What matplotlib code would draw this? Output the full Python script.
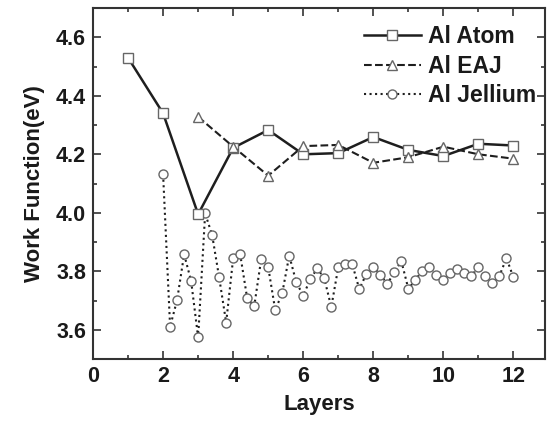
import matplotlib
matplotlib.use("Agg")
import matplotlib.pyplot as plt
from matplotlib.ticker import MultipleLocator

plt.rcParams['font.family'] = ['Liberation Sans', 'DejaVu Sans']
plt.rcParams['font.weight'] = 'bold'

# Al Atom: integer layers
atom_x = [1, 2, 3, 4, 5, 6, 7, 8, 9, 10, 11, 12]
atom_y = [4.53, 4.34, 3.995, 4.222, 4.283, 4.200, 4.204, 4.259, 4.215, 4.194, 4.236, 4.230]

# Al EAJ
eaj_x = [3, 4, 5, 6, 7, 8, 9, 10, 11, 12]
eaj_y = [4.328, 4.226, 4.127, 4.228, 4.232, 4.171, 4.190, 4.226, 4.200, 4.185]

# Al Jellium: layers in steps of 0.2
jel_x = [2.0, 2.2, 2.4, 2.6, 2.8, 3.0, 3.2, 3.4, 3.6, 3.8,
         4.0, 4.2, 4.4, 4.6, 4.8, 5.0, 5.2, 5.4, 5.6, 5.8,
         6.0, 6.2, 6.4, 6.6, 6.8, 7.0, 7.2, 7.4, 7.6, 7.8,
         8.0, 8.2, 8.4, 8.6, 8.8, 9.0, 9.2, 9.4, 9.6, 9.8,
         10.0, 10.2, 10.4, 10.6, 10.8, 11.0, 11.2, 11.4, 11.6, 11.8,
         12.0]
jel_y = [4.132, 3.611, 3.702, 3.858, 3.767, 3.574, 3.998, 3.924, 3.779, 3.625,
         3.845, 3.858, 3.708, 3.680, 3.842, 3.814, 3.668, 3.725, 3.854, 3.763,
         3.717, 3.773, 3.810, 3.776, 3.678, 3.814, 3.824, 3.824, 3.739, 3.791,
         3.816, 3.788, 3.757, 3.797, 3.835, 3.740, 3.771, 3.802, 3.814, 3.788,
         3.771, 3.796, 3.808, 3.796, 3.784, 3.816, 3.784, 3.759, 3.785, 3.845,
         3.779]

line_c = '#1e1e1e'
edge_c = '#666666'
text_c = '#1a1a1a'

fig = plt.figure(figsize=(5.55, 4.21), dpi=100)
ax = fig.add_axes([0.1676, 0.147, 0.8144, 0.834])

ax.plot(atom_x, atom_y, '-', color=line_c, lw=1.8, marker='s', ms=6.5,
        mfc='white', mec=edge_c, mew=1.0, label='Al Atom', zorder=3)
ax.plot(eaj_x, eaj_y, '--', color=line_c, lw=1.5, marker='^', ms=7,
        mfc='white', mec=edge_c, mew=1.0, label='Al EAJ', zorder=3)
ax.plot(jel_x, jel_y, ':', color=line_c, lw=1.5, marker='o', ms=6.5,
        mfc='white', mec=edge_c, mew=1.0, label='Al Jellium', zorder=2)

ax.set_xlim(0, 12.9)
ax.set_ylim(3.5, 4.7)
ax.xaxis.set_major_locator(MultipleLocator(2))
ax.xaxis.set_minor_locator(MultipleLocator(1))
ax.yaxis.set_major_locator(MultipleLocator(0.2))
ax.yaxis.set_minor_locator(MultipleLocator(0.1))
ax.yaxis.set_major_formatter(matplotlib.ticker.FormatStrFormatter('%.1f'))

ax.tick_params(which='both', direction='in', top=True, right=True,
               color='#333333', width=1.2, labelsize=15.5, labelcolor=text_c)
ax.tick_params(which='major', length=6, pad=5)
ax.tick_params(which='minor', length=3)
for s in ax.spines.values():
    s.set_linewidth(1.5)
    s.set_color('#333333')

ax.set_xlabel('Layers', fontsize=16, fontweight='bold', color=text_c, labelpad=5)
ax.set_ylabel('Work Function(eV)', fontsize=16, fontweight='bold', color=text_c, labelpad=8)

leg = ax.legend(loc='upper right', bbox_to_anchor=(1.018, 1.0), frameon=False,
                fontsize=16.5, handlelength=2.5, handletextpad=0.3,
                labelspacing=0.28, borderaxespad=0.35)
for t in leg.get_texts():
    t.set_color(text_c)

fig.savefig('out.png', dpi=100)
